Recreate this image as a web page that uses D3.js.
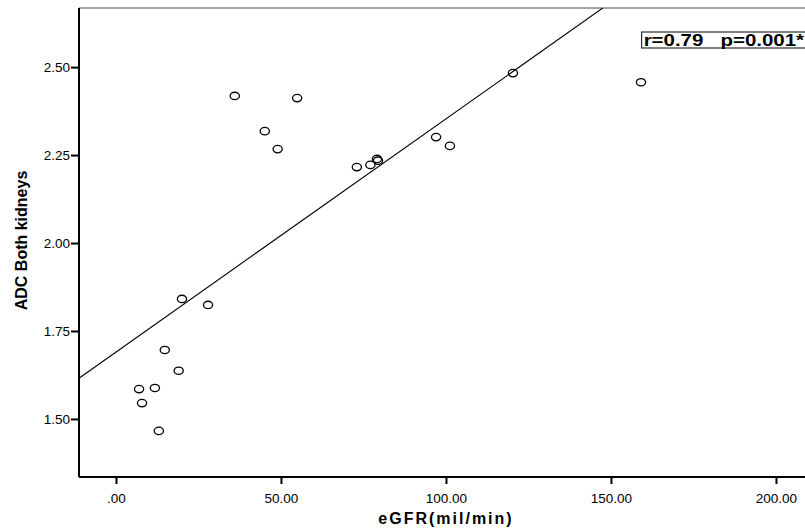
<!DOCTYPE html>
<html>
<head>
<meta charset="utf-8">
<script src="https://cdn.jsdelivr.net/npm/d3@7"></script>
<style>
  body { margin: 0; background: #fff; }
  svg { display: block; }
  text { font-family: Arial, "Liberation Sans", sans-serif; }
</style>
</head>
<body>
<svg id="chart" width="805" height="530"></svg>
<script>
// values
var egfr = [7.0, 11.8, 7.9, 13.0, 20.0, 27.9, 14.8, 19.0, 36.0, 54.9, 45.1, 49.0,
            73.0, 77.1, 79.1, 79.4, 97.0, 101.2, 120.3, 159.1]
var adc = [1.585, 1.588, 1.545, 1.466, 1.841, 1.824, 1.696, 1.637, 2.418, 2.412, 2.318, 2.267,
           2.216, 2.222, 2.239, 2.234, 2.301, 2.276, 2.483, 2.457]
var fitLine = { intercept: 1.69, slope: 0.00663 }
var xTicks = [0, 50, 100, 150, 200]
var yTicks = [1.5, 1.75, 2.0, 2.25, 2.5]
var statLabel = "r=0.79   p=0.001*"

var margin = { top: 8, bottom: 53, left: 79, right: 0 }
var svg = d3.select("#chart")
var width = 805
var height = 530
var chartWidth = width - margin.left - margin.right
var chartHeight = height - margin.top - margin.bottom

var xScale = d3.scaleLinear()
    .domain([-11.2, 208.8])
    .range([0, chartWidth])
var yScale = d3.scaleLinear()
    .domain([1.335, 2.668])
    .range([chartHeight, 0])

const g = svg.append("g")
    .attr("transform", `translate(${margin.left}, ${margin.top})`)

g.append("clipPath").attr("id", "plotClip")
    .append("rect")
    .attr("width", chartWidth)
    .attr("height", chartHeight)

// top frame line
g.append("line")
    .attr("x1", 0).attr("x2", chartWidth)
    .attr("y1", 0).attr("y2", 0)
    .attr("stroke", "#444").attr("stroke-width", 1)

// axes
var xAxis = d3.axisBottom(xScale)
    .tickValues(xTicks)
    .tickSize(7)
    .tickSizeOuter(0)
    .tickFormat(d => d3.format(".2f")(d).replace(/^0\./, "."))
var yAxis = d3.axisLeft(yScale)
    .tickValues(yTicks)
    .tickSize(8)
    .tickSizeOuter(0)
    .tickFormat(d3.format(".2f"))

var xg = g.append("g")
    .attr("transform", `translate(0,${chartHeight})`)
    .call(xAxis)
var yg = g.append("g").call(yAxis)

xg.select(".domain").attr("d", `M0,0H${chartWidth}`)
yg.select(".domain").attr("d", `M0,0V${chartHeight}`)
;[xg, yg].forEach(a => {
    a.selectAll(".domain").attr("stroke", "#000").attr("stroke-width", 2)
    a.selectAll(".tick line").attr("stroke", "#000").attr("stroke-width", 2)
    a.selectAll(".tick text")
        .attr("fill", "#000")
        .style("font-size", "13.5px")
        .style("font-family", "Arial, 'Liberation Sans', sans-serif")
})
xg.selectAll(".tick text").attr("dy", "1.15em")
yg.selectAll(".tick text").attr("x", -9)

// fit line
var x0 = xScale.domain()[0], x1 = xScale.domain()[1]
g.append("line")
    .attr("clip-path", "url(#plotClip)")
    .attr("x1", xScale(x0))
    .attr("y1", yScale(fitLine.intercept + fitLine.slope * x0))
    .attr("x2", xScale(x1))
    .attr("y2", yScale(fitLine.intercept + fitLine.slope * x1))
    .attr("stroke", "#000")
    .attr("stroke-width", 1.1)

// points
g.selectAll("ellipse.pt")
    .data(egfr.map((d, i) => ({ x: d, y: adc[i] })))
    .enter()
    .append("ellipse")
    .attr("class", "pt")
    .attr("cx", d => xScale(d.x))
    .attr("cy", d => yScale(d.y))
    .attr("rx", 4.6)
    .attr("ry", 3.7)
    .attr("fill", "none")
    .attr("stroke", "#000")
    .attr("stroke-width", 1.3)

// stat annotation box
var box = g.append("g")
    .attr("transform", `translate(${chartWidth * 0.775}, 24)`)
box.append("rect")
    .attr("x", 0).attr("y", 0)
    .attr("width", 200).attr("height", 16)
    .attr("fill", "#fff")
    .attr("stroke", "#000")
    .attr("stroke-width", 1)
box.append("text")
    .attr("transform", "translate(2,14) scale(1.28,1)")
    .attr("xml:space", "preserve")
    .style("white-space", "pre")
    .style("font-size", "16px")
    .style("font-weight", "bold")
    .text(statLabel)

// axis titles
svg.append("text")
    .attr("x", margin.left + chartWidth / 2 + 4)
    .attr("y", 524)
    .attr("text-anchor", "middle")
    .style("font-size", "16px")
    .style("font-weight", "bold")
    .style("letter-spacing", "2px")
    .text("eGFR(mil/min)")

svg.append("text")
    .attr("transform", `translate(27, ${margin.top + chartHeight / 2 - 2}) rotate(-90)`)
    .attr("text-anchor", "middle")
    .style("font-size", "16px")
    .style("font-weight", "bold")
    .text("ADC Both kidneys")
</script>
</body>
</html>
